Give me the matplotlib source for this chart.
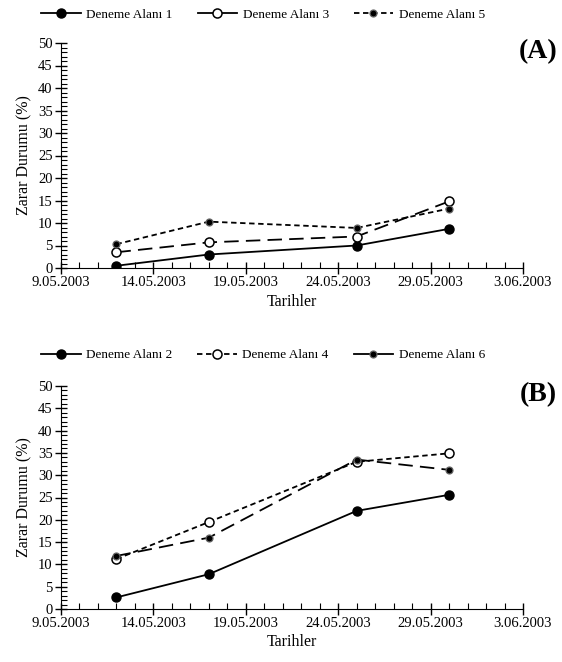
import matplotlib
matplotlib.use("Agg")
import matplotlib.pyplot as plt
import matplotlib.lines as mlines
import matplotlib.dates as mdates
from matplotlib.ticker import MultipleLocator
import datetime as dt

plt.rcParams['font.family'] = ['Liberation Serif', 'DejaVu Serif']

dates = [dt.date(2003, 5, 12), dt.date(2003, 5, 17), dt.date(2003, 5, 25), dt.date(2003, 5, 30)]

# panel A
alan1 = [0.5, 3.0, 5.0, 8.7]
alan3 = [3.5, 5.7, 7.0, 14.8]
alan5 = [5.3, 10.3, 8.9, 13.2]
# panel B
alan2 = [2.6, 7.8, 22.0, 25.6]
alan4 = [11.2, 19.5, 33.0, 34.9]
alan6 = [11.9, 16.0, 33.5, 31.2]

major_dates = [dt.date(2003, 5, 9) + dt.timedelta(days=5 * i) for i in range(6)]
major_labels = [d.strftime("%d.%m.%Y").lstrip("0") for d in major_dates]

# (series, label, linestyle, marker style) - plot style
# style: "big" filled, "open", "small" filled
panels = [
    ("(A)", [(alan1, "Deneme Alanı 1", "-", "big"),
             (alan3, "Deneme Alanı 3", (0, (8, 4)), "open"),
             (alan5, "Deneme Alanı 5", (0, (3, 2)), "small")],
     # legend styles as drawn in the original
     [("Deneme Alanı 1", "-", "big"), ("Deneme Alanı 3", "-", "open"),
      ("Deneme Alanı 5", (0, (3, 2)), "small")]),
    ("(B)", [(alan2, "Deneme Alanı 2", "-", "big"),
             (alan4, "Deneme Alanı 4", (0, (3, 2)), "open"),
             (alan6, "Deneme Alanı 6", (0, (8, 4)), "small")],
     [("Deneme Alanı 2", "-", "big"), ("Deneme Alanı 4", (0, (3, 2)), "open"),
      ("Deneme Alanı 6", "-", "small")]),
]


def marker_kw(kind):
    if kind == "big":
        return dict(marker="o", markersize=6.5, markerfacecolor="black", markeredgecolor="black")
    if kind == "open":
        return dict(marker="o", markersize=6.5, markerfacecolor="white", markeredgecolor="black",
                    markeredgewidth=1.1)
    return dict(marker="o", markersize=5, markerfacecolor="black", markeredgecolor="#666666",
                markeredgewidth=0.9)


fig = plt.figure(figsize=(5.62, 6.62), dpi=100)
axes_pos = [[61 / 562, 1 - 268 / 662, 462 / 562, 225 / 662],
            [61 / 562, 1 - 609 / 662, 462 / 562, 223 / 662]]
legend_y = [1 - 15 / 662, 1 - 355 / 662]

for (tag, series, leg), pos, ly in zip(panels, axes_pos, legend_y):
    ax = fig.add_axes(pos)
    for vals, lab, ls, kind in series:
        ax.plot(dates, vals, color="black", linestyle=ls, linewidth=1.3, **marker_kw(kind))
    ax.set_xlim(mdates.date2num(dt.date(2003, 5, 9)), mdates.date2num(dt.date(2003, 6, 3)))
    ax.set_ylim(0, 50)
    ax.set_xticks([mdates.date2num(d) for d in major_dates])
    ax.set_xticklabels(major_labels)
    ax.xaxis.set_minor_locator(MultipleLocator(1))
    ax.yaxis.set_major_locator(MultipleLocator(5))
    ax.yaxis.set_minor_locator(MultipleLocator(1))
    ax.spines['top'].set_visible(False)
    ax.spines['right'].set_visible(False)
    ax.tick_params(which="major", direction="inout", length=8, width=1, labelsize=10.5, pad=2)
    ax.tick_params(which="minor", direction="in", length=4, width=0.8)
    ax.set_xlabel("Tarihler", fontsize=11.5, labelpad=3)
    ax.set_ylabel("Zarar Durumu (%)", fontsize=11.5, labelpad=4)
    ax.text(1.074, 0.96, tag, transform=ax.transAxes, ha="right", va="center",
            fontsize=20, fontweight="bold")

    handles = [mlines.Line2D([], [], color="black", linestyle=ls, linewidth=1.3,
                             label=lab, **marker_kw(kind)) for lab, ls, kind in leg]
    fig.legend(handles=handles, loc="center", bbox_to_anchor=(0.468, ly), ncol=3,
               frameon=False, fontsize=9.5, handlelength=3.0, columnspacing=1.9,
               handletextpad=0.4)

fig.savefig("out.png", dpi=100)
